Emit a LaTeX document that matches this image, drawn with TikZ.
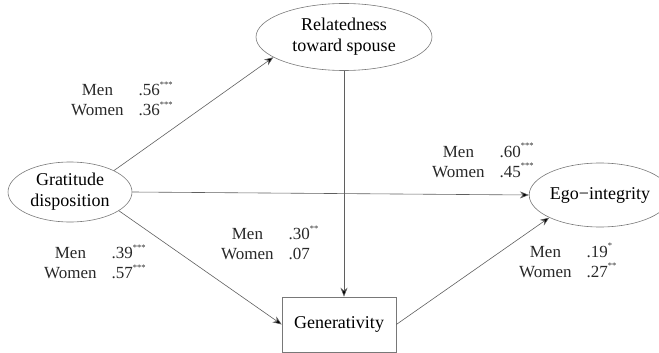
\documentclass[tikz,border=0pt]{standalone}
\usepackage{fontspec}
\setmainfont{Liberation Serif}
\usetikzlibrary{shapes.geometric,arrows.meta}
\definecolor{linegray}{RGB}{95,95,95}
\definecolor{shapegray}{RGB}{120,120,120}
\definecolor{labelgray}{RGB}{40,40,40}
\newcommand{\mwlabel}[2]{\begin{tabular}{@{}c@{\hspace{15pt}}l@{}}Men & #1\\ Women & #2\end{tabular}}
\newcommand{\sig}[1]{\raisebox{1.1ex}{\fontsize{8.5}{8.5}\selectfont #1}}
\tikzset{
  latent/.style={ellipse, draw=shapegray, line width=0.6pt, inner sep=0pt, align=center,
    font=\fontsize{18}{21}\selectfont, text=black},
  observed/.style={rectangle, draw=shapegray, line width=0.6pt, inner sep=0pt, align=center,
    font=\fontsize{18}{21}\selectfont, text=black},
  coef/.style={anchor=west, inner sep=0pt, text=labelgray, font=\fontsize{17}{19.5}\selectfont},
  path/.style={draw=linegray, line width=0.6pt, -{Stealth[length=9pt,width=7pt,inset=3pt,fill=black]}}
}
\begin{document}
\begin{tikzpicture}[x=1pt,y=-1pt]
\useasboundingbox (0,0) rectangle (659,353);
\node[latent, minimum width=124pt, minimum height=60pt] (grat) at (70,192) {Gratitude\\disposition};
\node[latent, minimum width=176pt, minimum height=67pt] (rel) at (344,37) {Relatedness\\toward spouse};
\node[latent, minimum width=118pt, minimum height=64pt] (ego) at (600,195) {Ego−integrity};
\node[observed, minimum width=114pt, minimum height=55pt] (gen) at (339,324.5) {Generativity};

\draw[path] (grat.26) -- (rel.196);
\draw[path] (grat.east) -- (ego.west);
\draw[path] (rel.south) -- (rel.south |- gen.north);
\draw[path] (grat.-21) -- (gen.west);
\draw[path] (gen.east) -- (ego.204);

\node[coef] (c1) at (71,101.5) {\mwlabel{.56\sig{***}}{.36\sig{***}}};
\node[coef] (c2) at (432,163) {\mwlabel{.60\sig{***}}{.45\sig{***}}};
\node[coef] (c3) at (221,245.5) {\mwlabel{.30\sig{**}}{.07}};
\node[coef] (c4) at (44,264.5) {\mwlabel{.39\sig{***}}{.57\sig{***}}};
\node[coef] (c5) at (519,263) {\mwlabel{.19\sig{*}}{.27\sig{**}}};
\end{tikzpicture}
\end{document}
